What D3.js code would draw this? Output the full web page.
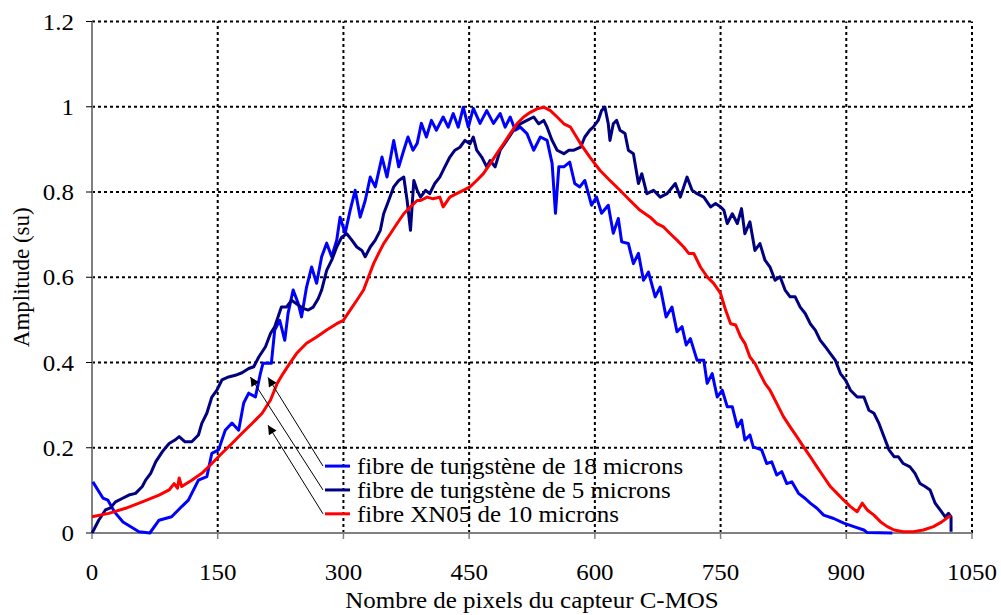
<!DOCTYPE html>
<html><head><meta charset="utf-8">
<script src="https://cdn.jsdelivr.net/npm/d3@7"></script>
<style>html,body{margin:0;padding:0;background:#fff;}svg{display:block;}</style>
</head><body>
<svg id="c" width="1001" height="615"></svg>
<script>
// ---- data (x = pixel index on sensor, y = amplitude) ----
const xTicks = [0,150,300,450,600,750,900,1050];
const yTicks = [0,0.2,0.4,0.6,0.8,1,1.2];
const yTickLabels = ["0","0.2","0.4","0.6","0.8","1","1.2"];
const seriesNames = ["fibre de tungstène de 18 microns","fibre de tungstène de 5 microns","fibre XN05 de 10 microns"];
const seriesColors = ["#0000FF","#000080","#FF0000"];

const fibre18 = [[1,0.120],[13,0.082],[19,0.077],[27,0.049],[37,0.026],[56,0.003],[69,0.0],[80,0.030],[95,0.038],[107,0.062],[115,0.077],[127,0.124],[137,0.132],[143,0.187],[151,0.195],[159,0.241],[167,0.258],[175,0.241],[181,0.305],[187,0.328],[195,0.319],[201,0.375],[204,0.398],[214,0.398],[218,0.476],[224,0.499],[230,0.452],[234,0.516],[240,0.570],[246,0.539],[250,0.507],[256,0.577],[262,0.624],[268,0.586],[274,0.648],[280,0.680],[286,0.648],[292,0.687],[296,0.741],[302,0.703],[308,0.757],[314,0.804],[320,0.741],[326,0.780],[332,0.835],[338,0.812],[346,0.882],[352,0.835],[360,0.921],[366,0.859],[372,0.898],[377,0.929],[383,0.898],[388,0.914],[393,0.961],[399,0.929],[405,0.968],[411,0.945],[419,0.976],[425,0.952],[431,0.984],[437,0.952],[443,0.999],[449,0.952],[455,0.996],[463,0.961],[471,0.991],[479,0.961],[487,0.984],[493,0.952],[499,0.976],[505,0.945],[511,0.952],[519,0.937],[527,0.898],[535,0.929],[543,0.921],[549,0.867],[553,0.750],[557,0.859],[563,0.859],[570,0.870],[576,0.820],[582,0.812],[588,0.827],[596,0.769],[602,0.788],[608,0.750],[616,0.769],[622,0.703],[628,0.738],[632,0.683],[640,0.679],[646,0.632],[652,0.656],[658,0.593],[664,0.612],[672,0.554],[678,0.577],[685,0.507],[692,0.530],[698,0.472],[704,0.484],[709,0.441],[714,0.456],[722,0.405],[730,0.405],[734,0.351],[740,0.374],[746,0.319],[752,0.335],[758,0.296],[764,0.296],[770,0.249],[775,0.265],[779,0.218],[785,0.230],[789,0.202],[799,0.195],[805,0.163],[811,0.167],[817,0.136],[823,0.144],[829,0.116],[835,0.120],[843,0.093],[851,0.081],[857,0.070],[865,0.058],[873,0.042],[885,0.034],[897,0.023],[909,0.015],[921,0.007],[925,0.001],[955,0.0]];

const fibre5 = [[0,0.0],[2,0.007],[8,0.030],[16,0.054],[22,0.059],[28,0.073],[36,0.081],[44,0.089],[52,0.093],[60,0.109],[64,0.124],[70,0.140],[76,0.167],[84,0.191],[92,0.210],[99,0.218],[104,0.226],[111,0.214],[119,0.214],[127,0.230],[131,0.257],[137,0.281],[143,0.319],[149,0.335],[155,0.359],[163,0.366],[171,0.370],[179,0.376],[187,0.386],[193,0.390],[199,0.413],[207,0.437],[213,0.468],[218,0.484],[226,0.530],[232,0.530],[238,0.546],[244,0.538],[252,0.527],[258,0.523],[264,0.530],[270,0.550],[274,0.570],[280,0.616],[286,0.640],[292,0.671],[298,0.694],[304,0.702],[310,0.687],[316,0.671],[322,0.663],[326,0.648],[332,0.671],[338,0.687],[344,0.710],[348,0.749],[354,0.780],[360,0.812],[366,0.827],[372,0.835],[376,0.780],[380,0.710],[384,0.827],[388,0.804],[392,0.788],[398,0.804],[403,0.796],[409,0.820],[415,0.835],[421,0.859],[427,0.882],[433,0.898],[439,0.905],[445,0.921],[451,0.913],[455,0.929],[459,0.898],[465,0.882],[471,0.859],[475,0.874],[481,0.859],[487,0.898],[495,0.921],[503,0.945],[511,0.960],[519,0.968],[527,0.976],[533,0.960],[539,0.968],[543,0.952],[549,0.921],[555,0.898],[563,0.890],[569,0.898],[575,0.898],[583,0.905],[588,0.929],[594,0.945],[598,0.952],[604,0.968],[608,0.991],[612,0.999],[616,0.960],[618,0.921],[622,0.960],[626,0.968],[630,0.945],[636,0.937],[640,0.898],[646,0.890],[652,0.820],[656,0.843],[662,0.796],[670,0.804],[678,0.788],[686,0.796],[696,0.820],[702,0.788],[710,0.835],[716,0.804],[722,0.796],[730,0.788],[738,0.765],[744,0.773],[750,0.765],[754,0.757],[758,0.726],[764,0.749],[770,0.726],[775,0.761],[779,0.702],[785,0.730],[791,0.663],[797,0.679],[803,0.640],[809,0.624],[815,0.593],[821,0.601],[827,0.570],[833,0.554],[839,0.554],[845,0.530],[851,0.515],[857,0.491],[863,0.476],[869,0.452],[875,0.437],[881,0.421],[887,0.405],[893,0.374],[899,0.359],[905,0.335],[913,0.319],[921,0.319],[927,0.288],[933,0.281],[939,0.257],[945,0.226],[951,0.195],[957,0.179],[962,0.179],[968,0.163],[976,0.155],[982,0.140],[988,0.116],[994,0.109],[1000,0.101],[1006,0.070],[1012,0.054],[1018,0.038],[1022,0.046],[1025,0.038],[1025,0.003]];

const xn05 = [[0,0.038],[20,0.046],[40,0.058],[60,0.073],[80,0.089],[92,0.101],[98,0.116],[102,0.105],[104,0.129],[107,0.109],[119,0.124],[131,0.140],[143,0.163],[155,0.187],[167,0.210],[179,0.234],[191,0.257],[203,0.281],[213,0.312],[221,0.351],[228,0.374],[236,0.398],[244,0.421],[256,0.445],[268,0.460],[280,0.476],[292,0.491],[300,0.499],[308,0.523],[316,0.546],[324,0.570],[330,0.601],[336,0.632],[342,0.656],[348,0.679],[356,0.702],[364,0.726],[372,0.749],[380,0.765],[388,0.780],[392,0.780],[400,0.788],[407,0.784],[415,0.788],[419,0.765],[427,0.788],[435,0.796],[443,0.804],[451,0.812],[459,0.827],[467,0.843],[475,0.866],[483,0.890],[491,0.913],[499,0.937],[507,0.960],[515,0.976],[523,0.987],[531,0.995],[539,0.999],[547,0.991],[555,0.976],[563,0.960],[571,0.952],[583,0.913],[594,0.882],[606,0.851],[618,0.827],[630,0.804],[642,0.780],[654,0.757],[666,0.741],[674,0.726],[682,0.718],[690,0.702],[698,0.687],[706,0.671],[712,0.656],[718,0.656],[726,0.624],[734,0.601],[742,0.585],[750,0.562],[756,0.523],[762,0.491],[768,0.488],[774,0.460],[779,0.445],[785,0.413],[791,0.398],[797,0.374],[803,0.351],[809,0.335],[817,0.304],[825,0.273],[833,0.249],[841,0.226],[849,0.202],[857,0.179],[865,0.155],[873,0.132],[881,0.109],[889,0.093],[897,0.077],[905,0.062],[913,0.050],[919,0.070],[925,0.054],[933,0.042],[941,0.026],[949,0.015],[957,0.007],[968,0.003],[980,0.003],[992,0.007],[1004,0.015],[1014,0.026],[1022,0.038],[1025,0.040]];

// legend anchor (data units) and arrow tips (data units)
const legendAnchor = [278, [0.157, 0.101, 0.045]];
const arrowTips = [[210,0.365],[189,0.366],[210,0.253]];

const series = [fibre18, fibre5, xn05];

// ---- drawing ----
const svg = d3.select("#c");
const x = d3.scaleLinear().domain([0,1050]).range([92,972]);
const y = d3.scaleLinear().domain([0,1.2]).range([533,21.5]);
const FONT = "'Liberation Serif','Times New Roman',serif";
const FS = 24;
const SX = 1.04;

// gridlines
const grid = svg.append("g");
grid.selectAll("line.h").data(yTicks.filter(d=>d>0)).join("line")
  .attr("x1",x(0)).attr("x2",x(1050)).attr("y1",d=>y(d)).attr("y2",d=>y(d))
  .attr("stroke","#000").attr("stroke-width",2).attr("stroke-dasharray","3,3");
grid.selectAll("line.v").data(xTicks.filter(d=>d>0)).join("line")
  .attr("y1",y(0)).attr("y2",y(1.2)).attr("x1",d=>x(d)).attr("x2",d=>x(d))
  .attr("stroke","#000").attr("stroke-width",2).attr("stroke-dasharray","3,3");

// axes
const axisColor = "#808080";
svg.append("line").attr("x1",x(0)).attr("x2",x(0)).attr("y1",y(0)).attr("y2",y(1.2))
  .attr("stroke",axisColor).attr("stroke-width",2);
svg.append("line").attr("x1",x(0)).attr("x2",x(1050)).attr("y1",y(0)).attr("y2",y(0))
  .attr("stroke",axisColor).attr("stroke-width",2);
svg.selectAll("line.yt").data(yTicks).join("line")
  .attr("x1",x(0)-6).attr("x2",x(0)).attr("y1",d=>y(d)).attr("y2",d=>y(d))
  .attr("stroke","#000").attr("stroke-width",1);
svg.selectAll("line.xt").data(xTicks).join("line")
  .attr("y1",y(0)).attr("y2",y(0)+6).attr("x1",d=>x(d)).attr("x2",d=>x(d))
  .attr("stroke",axisColor).attr("stroke-width",1.5);

// tick labels
svg.selectAll("text.yl").data(yTicks).join("text")
  .attr("transform",d=>`translate(${x(0)-18},${y(d)+8}) scale(${SX},1)`)
  .attr("text-anchor","end").attr("font-family",FONT).attr("font-size",FS)
  .text((d,i)=>yTickLabels[i]);
svg.selectAll("text.xl").data(xTicks).join("text")
  .attr("transform",d=>`translate(${x(d)},580) scale(${SX},1)`)
  .attr("text-anchor","middle").attr("font-family",FONT).attr("font-size",FS)
  .text(d=>String(d));

// axis titles
svg.append("text").attr("transform",`translate(${(x(0)+x(1050))/2},608) scale(${SX},1)`)
  .attr("text-anchor","middle").attr("font-family",FONT).attr("font-size",FS)
  .text("Nombre de pixels du capteur C-MOS");
svg.append("text").attr("transform",`translate(29,${(y(0)+y(1.2))/2}) rotate(-90)`)
  .attr("text-anchor","middle").attr("font-family",FONT).attr("font-size",FS-1)
  .text("Amplitude (su)");

// curves
const line = d3.line().x(d=>x(d[0])).y(d=>y(d[1]));
series.forEach((s,i)=>{
  svg.append("path").datum(s).attr("d",line).attr("fill","none")
    .attr("stroke",seriesColors[i]).attr("stroke-width",3).attr("stroke-linejoin","round");
});

// arrows
const defs = svg.append("defs");
defs.append("marker").attr("id","ah").attr("viewBox","0 0 10 10").attr("refX",10).attr("refY",5)
  .attr("markerWidth",11).attr("markerHeight",9).attr("markerUnits","userSpaceOnUse").attr("orient","auto")
  .append("path").attr("d","M0,0 L10,5 L0,10 z").attr("fill","#000");
arrowTips.forEach((t,i)=>{
  svg.append("line").attr("x1",x(legendAnchor[0])-2).attr("y1",y(legendAnchor[1][i]))
    .attr("x2",x(t[0])).attr("y2",y(t[1]))
    .attr("stroke","#000").attr("stroke-width",1).attr("marker-end","url(#ah)");
});

// legend
seriesNames.forEach((n,i)=>{
  const ly = y(legendAnchor[1][i]);
  svg.append("line").attr("x1",x(legendAnchor[0])).attr("x2",x(legendAnchor[0])+25)
    .attr("y1",ly).attr("y2",ly).attr("stroke",seriesColors[i]).attr("stroke-width",3);
  svg.append("text").attr("transform",`translate(${x(legendAnchor[0])+32},${ly+8}) scale(${SX},1)`)
    .attr("font-family",FONT).attr("font-size",FS).text(n);
});
</script>
</body></html>
